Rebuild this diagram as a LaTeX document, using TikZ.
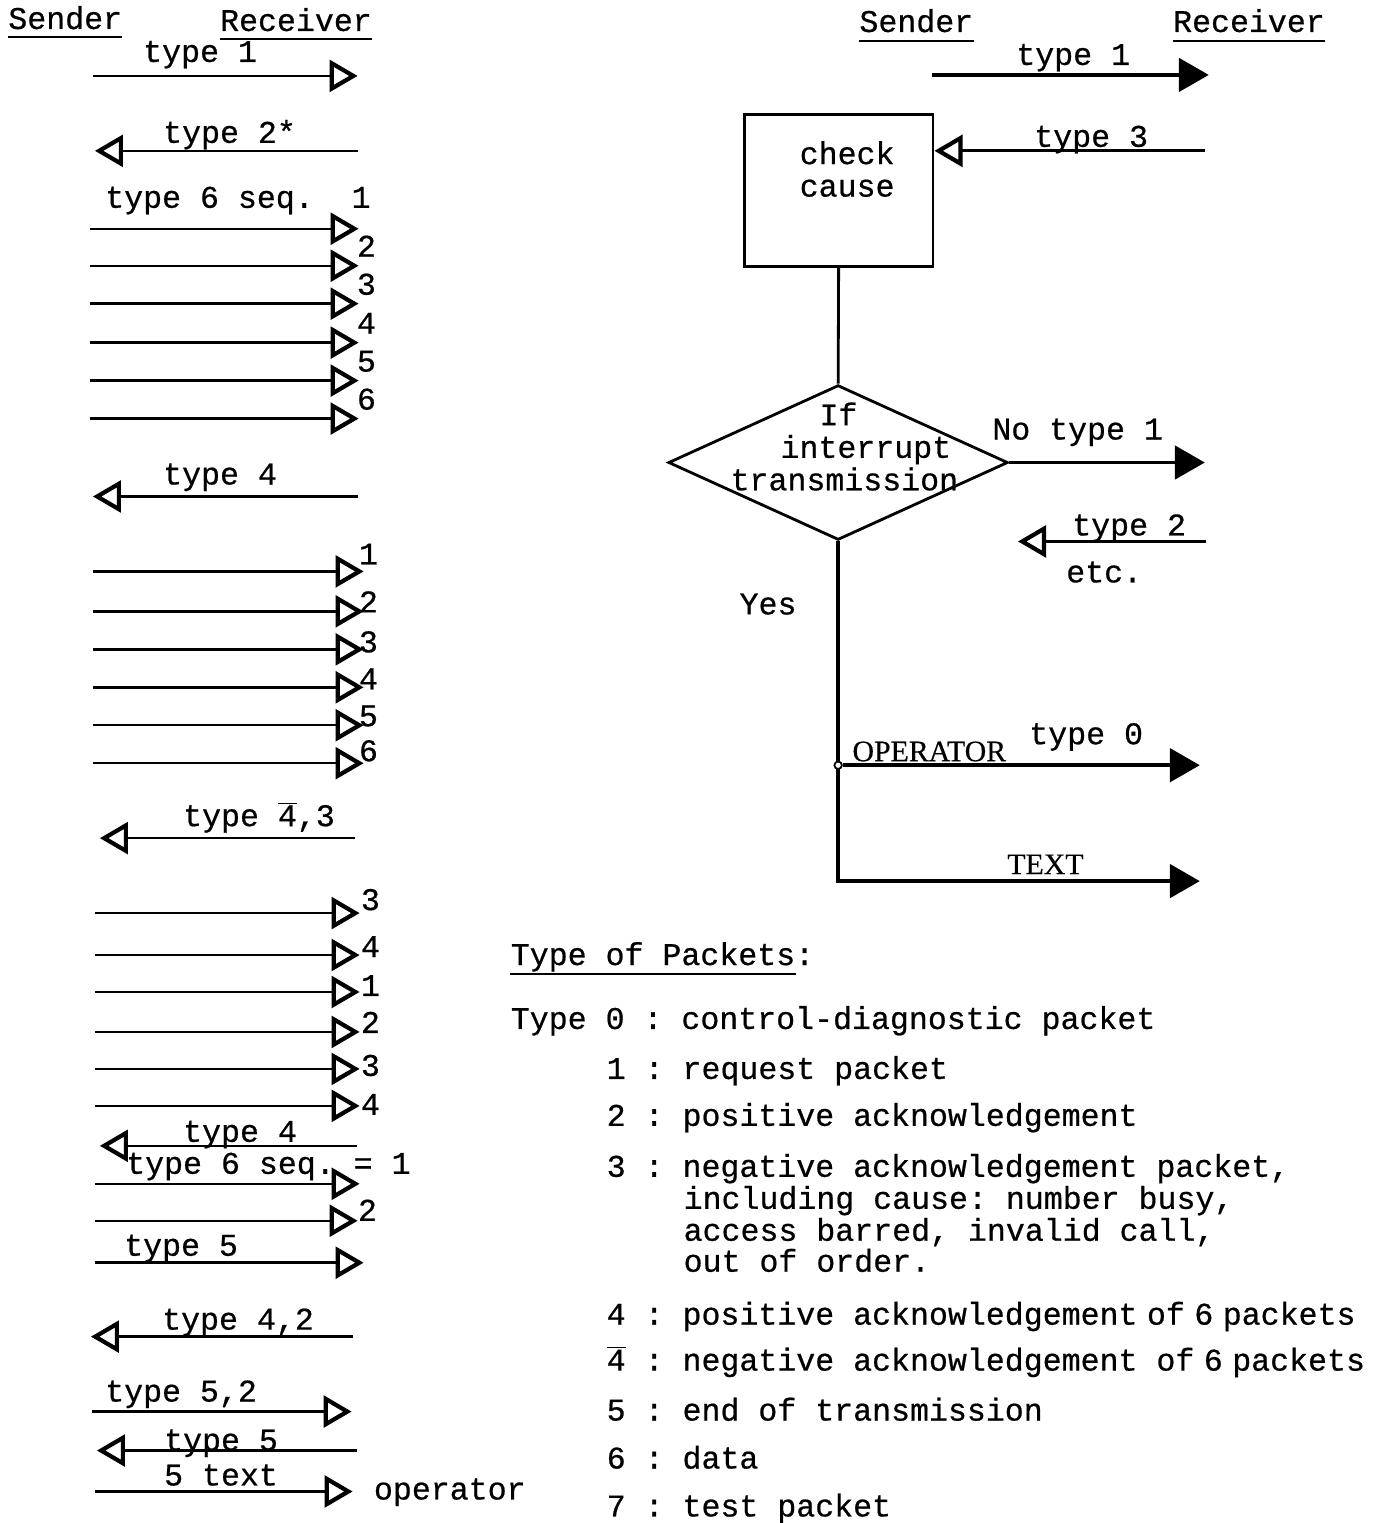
\documentclass[tikz,border=0pt]{standalone}
\usepackage{fontspec}
\setmainfont{Liberation Mono}[FakeBold=0.6]
\newfontfamily\romfont{Liberation Serif}[FakeBold=0.4]
\usetikzlibrary{arrows.meta,shapes.geometric}
\newcommand{\nsp}{\hskip.3em\relax}
\newcommand{\negfour}{$\overline{\mbox{4}}$}
\frenchspacing

\begin{document}
\begin{tikzpicture}[x=0.02cm,y=-0.02cm,
  font=\fontsize{18}{18.5}\selectfont,
  lbl/.style={anchor=base west,inner sep=0pt},
  caps/.style={lbl,font=\romfont\fontsize{17}{18}\selectfont},
  wire/.style={line width=1.4pt},
  opn/.style={wire,-{Triangle[open,length=16pt,width=18pt,line width=2.4pt]}},
  ful/.style={line width=2pt,-{Triangle[length=17pt,width=19pt]}},
  uline/.style={line width=1.3pt}]
\path[fill=white] (0,0) rectangle (1390,1523);
% left lane
\node[lbl] (sndL) at (8,29) {Sender};
\node[lbl] (rcvL) at (220,31) {Receiver};
\draw[uline] ([yshift=-4.5pt]sndL.base west) -- ([yshift=-4.5pt]sndL.base east);
\draw[uline] ([yshift=-4.5pt]rcvL.base west) -- ([yshift=-4.5pt]rcvL.base east);
\coordinate (l1a) at (93,76); \coordinate (l1b) at (358,76);
\node[lbl] (l1t) at (143,62) {type 1};
\draw[opn] (l1a) -- (l1b);
\coordinate (l2a) at (358,151); \coordinate (l2b) at (95,151);
\node[lbl] (l2t) at (163,143) {type 2*};
\draw[opn] (l2a) -- (l2b);
\node[lbl] (l3t) at (105,208) {type 6 seq.~~1};
\foreach \k/\yy/\ly in {1/229/208,2/266/257,3/304/295,4/343/334,5/381/372,6/419/410}{
  \coordinate (sa\k) at (90,\yy); \coordinate (ta\k) at (359,\yy);
  \draw[opn] (sa\k) -- (ta\k);
}
\foreach \k/\ly in {2/257,3/295,4/334,5/372,6/410}
  \node[lbl] (na\k) at (357,\ly) {\k};
\coordinate (l4a) at (358,497); \coordinate (l4b) at (93,497);
\node[lbl] (l4t) at (163,485) {type 4};
\draw[opn] (l4a) -- (l4b);
\foreach \k/\yy/\ly in {1/572/565,2/612/613,3/650/653,4/688/690,5/726/727,6/764/762}{
  \coordinate (sb\k) at (93,\yy); \coordinate (tb\k) at (364,\yy);
  \draw[opn] (sb\k) -- (tb\k);
  \node[lbl] (nb\k) at (359,\ly) {\k};
}
\coordinate (l5a) at (355,839); \coordinate (l5b) at (100,839);
\node[lbl] (l5t) at (183,827) {type \negfour,3};
\draw[opn] (l5a) -- (l5b);
\foreach \k/\yy/\n/\ly in {1/914/3/911,2/956/4/958,3/993/1/997,4/1033/2/1034,5/1070/3/1077,6/1107/4/1116}{
  \coordinate (sc\k) at (95,\yy); \coordinate (tc\k) at (360,\yy);
  \draw[opn] (sc\k) -- (tc\k);
  \node[lbl] (nc\k) at (361,\ly) {\n};
}
\coordinate (l6a) at (357,1147); \coordinate (l6b) at (100,1147);
\node[lbl] (l6t) at (183,1143) {type 4};
\draw[opn] (l6a) -- (l6b);
\node[lbl] (l7t) at (126,1175) {type 6 seq. = 1};
\coordinate (l7a) at (95,1185); \coordinate (l7b) at (360,1185);
\draw[opn] (l7a) -- (l7b);
\coordinate (l8a) at (95,1222); \coordinate (l8b) at (358,1222);
\draw[opn] (l8a) -- (l8b);
\node[lbl] (n8) at (358,1222) {2};
\coordinate (l9a) at (95,1264); \coordinate (l9b) at (364,1264);
\node[lbl] (l9t) at (124,1257) {type 5};
\draw[opn] (l9a) -- (l9b);
\coordinate (l10a) at (353,1338); \coordinate (l10b) at (91,1338);
\node[lbl] (l10t) at (162,1331) {type 4,2};
\draw[opn] (l10a) -- (l10b);
\coordinate (l11a) at (92,1413); \coordinate (l11b) at (352,1413);
\node[lbl] (l11t) at (105,1403) {type 5,2};
\draw[opn] (l11a) -- (l11b);
\coordinate (l12a) at (357,1452); \coordinate (l12b) at (97,1452);
\node[lbl] (l12t) at (164,1452) {type 5};
\draw[opn] (l12a) -- (l12b);
\coordinate (l13a) at (95,1493); \coordinate (l13b) at (353,1493);
\node[lbl] (l13t) at (164,1487) {5 text};
\draw[opn] (l13a) -- (l13b);
\node[lbl] (oper) at (374,1501) {operator};
% right lane
\node[lbl] (sndR) at (860,32) {Sender};
\node[lbl] (rcvR) at (1174,32) {Receiver};
\draw[uline] ([yshift=-5pt]sndR.base west) -- ([yshift=-5pt]sndR.base east);
\draw[uline] ([yshift=-5pt]rcvR.base west) -- ([yshift=-5pt]rcvR.base east);
\coordinate (r1a) at (933,75); \coordinate (r1b) at (1210,75);
\node[lbl] (r1t) at (1017,65) {type 1};
\draw[ful] (r1a) -- (r1b);
\node[draw,line width=1.6pt,minimum width=3.78cm,minimum height=3.04cm,inner sep=0pt] (chk) at (839.5,191) {};
\node[align=center,inner sep=0pt,anchor=north] (chkt) at (848,141) {check\\cause};
\coordinate (r3a) at (1206,151);
\node[lbl] (r3t) at (1035,147) {type 3};
\draw[opn,line width=1.8pt] (r3a) -- (r3a -| chk.east);
\node[draw,diamond,line width=1.6pt,minimum width=6.8cm,minimum height=3.1cm,inner sep=0pt] (dec) at (839,463) {};
\draw[wire,line width=1.6pt] (chk.south) -- (dec.north);
\node[align=left,inner sep=0pt,anchor=west] (dect) at (731,447) {\hspace*{1.78cm}If\\\hspace*{1cm}interrupt\\transmission};
\coordinate (r4b) at (1206,462);
\node[lbl] (r4t) at (993,440) {No type 1};
\draw[ful] (dec.east) -- (dec.east -| r4b);
\coordinate (r5a) at (1207,542); \coordinate (r5b) at (1019,542);
\node[lbl] (r5t) at (1073,536) {type 2};
\draw[opn,line width=1.8pt] (r5a) -- (r5b);
\node[lbl] (etc) at (1067,583) {etc.};
\node[lbl] (yes) at (740,615) {Yes};
\coordinate (r7b) at (1201,882);
\draw[ful] (dec.south) |- (r7b);
\node[circle,draw,fill=white,line width=1pt,inner sep=1.5pt] (opj) at (839,766) {};
\coordinate (r6b) at (1201,766);
\draw[ful] (opj) -- (r6b);
\node[caps] (opr) at (853,762) {OPERATOR};
\node[lbl] (r6t) at (1030,745) {type 0};
\node[caps] (txt) at (1008,875) {TEXT};
% packet types
\node[lbl] (leg) at (511,966) {Type of Packets:};
\draw[uline] ([yshift=-5pt]leg.base west) -- ([yshift=-5pt,xshift=-10.8pt]leg.base east);
\node[lbl] (leg0) at (511,1030) {Type 0 : control-diagnostic packet};
\node[lbl] (leg1) at (607,1080) {1 : request packet};
\node[lbl] (leg2) at (607,1127) {2 : positive acknowledgement};
\node[lbl] (leg3) at (607,1178) {3 : negative acknowledgement packet,};
\node[lbl] (leg3b) at (684,1210) {including cause: number busy,};
\node[lbl] (leg3c) at (684,1242) {access barred, invalid call,};
\node[lbl] (leg3d) at (684,1273) {out of order.};
\node[lbl] (leg4) at (607,1326) {4 : positive acknowledgement\nsp of\nsp 6\nsp packets};
\node[lbl] (leg4n) at (607,1372) {\negfour{} : negative acknowledgement of\nsp 6\nsp packets};
\node[lbl] (leg5) at (607,1422) {5 : end of transmission};
\node[lbl] (leg6) at (607,1470) {6 : data};
\node[lbl] (leg7) at (607,1518) {7 : test packet};
\end{tikzpicture}
\end{document}
